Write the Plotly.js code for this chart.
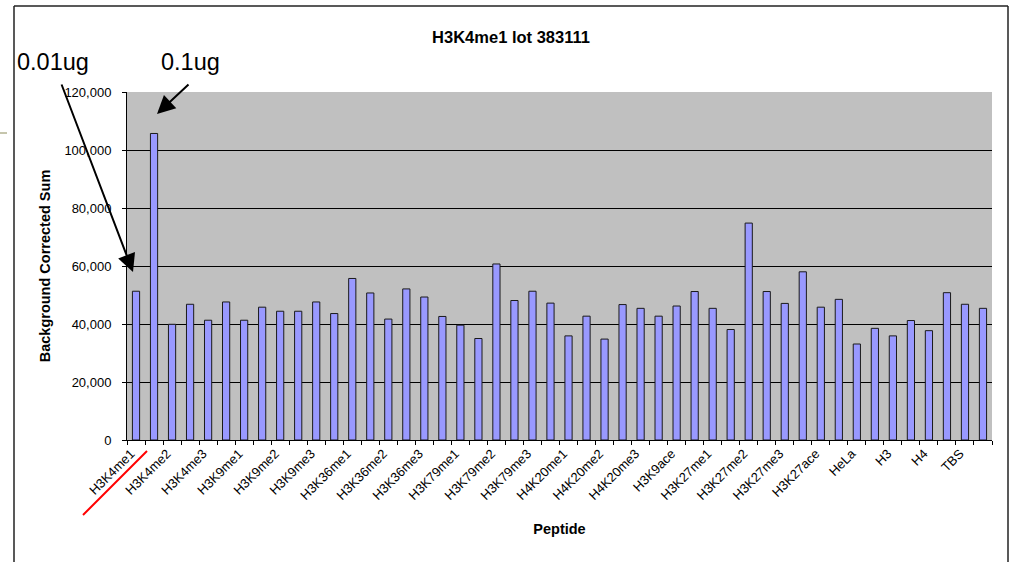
<!DOCTYPE html>
<html>
<head>
<meta charset="utf-8">
<script src="https://cdn.plot.ly/plotly-3.0.1.min.js"></script>
<style>html,body{margin:0;padding:0;background:#fff;}#chart{width:1015px;height:562px;}</style>
</head>
<body>
<div id="chart"></div>
<script>
// Peptides (each tested at two amounts: 0.01ug then 0.1ug)
var peptides = ["H3K4me1","H3K4me2","H3K4me3","H3K9me1","H3K9me2","H3K9me3","H3K36me1","H3K36me2","H3K36me3","H3K79me1","H3K79me2","H3K79me3","H4K20me1","H4K20me2","H4K20me3","H3K9ace","H3K27me1","H3K27me2","H3K27me3","H3K27ace","HeLa","H3","H4","TBS"];
var doses = ["0.01ug", "0.1ug"];
var sum001 = [51300,39900,41300,41300,44400,47600,55700,41700,49300,39600,60700,51300,35900,34800,45400,46200,45400,74800,47100,45800,33100,35900,37700,46800];
var sum01  = [105700,46800,47600,45800,44400,43600,50700,52100,42600,35000,48100,47200,42700,46700,42700,51200,38100,51200,58000,48500,38500,41200,50800,45400];
var yTicks = [0,20000,40000,60000,80000,100000,120000];

var cats = [], vals = [], tickText = [];
for (var i = 0; i < peptides.length; i++) {
  cats.push(peptides[i] + " " + doses[0]); vals.push(sum001[i]); tickText.push(peptides[i]);
  cats.push(peptides[i] + " " + doses[1]); vals.push(sum01[i]);  tickText.push("");
}

var FONT = "Liberation Sans, Arial, sans-serif";
var L = 127, R = 23, T = 92, B = 122, W = 1015, H = 562;
var pw = W - L - R, ph = H - T - B;
function px(x){ return (x - L) / pw; }
function py(y){ return (H - B - y) / ph; }

var trace = {
  type: "bar", x: cats, y: vals,
  marker: {color: "#9999ff", line: {color: "#1a1a1a", width: 1}},
  hoverinfo: "x+y"
};

var layout = {
  width: W, height: H,
  margin: {l: L, r: R, t: T, b: B, pad: 0},
  paper_bgcolor: "#ffffff",
  plot_bgcolor: "#c0c0c0",
  bargap: 0.6,
  showlegend: false,
  font: {family: FONT, color: "#000"},
  title: {text: "H3K4me1 lot 383111", x: 511 / W, xref: "container", xanchor: "center",
          y: 1 - 37 / H, yref: "container", yanchor: "middle",
          font: {family: FONT, size: 16.5, weight: 700, color: "#000"}},
  xaxis: {
    type: "category", categoryorder: "array", categoryarray: cats,
    tickvals: cats, ticktext: tickText, tickangle: -45, ticklabelshift: -5,
    tickson: "boundaries", ticks: "outside", ticklen: 4, tickcolor: "#000", tickwidth: 1,
    showgrid: false, showline: true, linecolor: "#000", linewidth: 1,
    tickfont: {family: FONT, size: 13, color: "#000"},
    title: {text: "Peptide", font: {family: FONT, size: 14.5, weight: 700, color: "#000"}, standoff: 22},
    automargin: false
  },
  yaxis: {
    range: [0, 120000], tickvals: yTicks, tickformat: ",",
    ticks: "outside", ticklen: 4, tickcolor: "#000", ticklabelstandoff: 8,
    showgrid: true, gridcolor: "#000", gridwidth: 1, zeroline: false,
    showline: true, linecolor: "#000", linewidth: 1,
    tickfont: {family: FONT, size: 13, color: "#000"},
    title: {text: "Background Corrected Sum", font: {family: FONT, size: 14.5, weight: 700, color: "#000"}, standoff: 10},
    automargin: false
  },
  annotations: [
    {xref: "paper", yref: "paper", x: px(52.7), y: py(62), text: "0.01ug", showarrow: false,
     font: {family: FONT, size: 23.5, color: "#000"}, xanchor: "center", yanchor: "middle"},
    {xref: "paper", yref: "paper", x: px(190), y: py(62), text: "0.1ug", showarrow: false,
     font: {family: FONT, size: 23.5, color: "#000"}, xanchor: "center", yanchor: "middle"},
    {xref: "paper", yref: "paper", x: px(133), y: py(272), text: "", showarrow: true,
     ax: 61 - 133, ay: 83 - 272, arrowhead: 2, arrowsize: 1.8, arrowwidth: 2, arrowcolor: "#000"},
    {xref: "paper", yref: "paper", x: px(157), y: py(114), text: "", showarrow: true,
     ax: 190 - 157, ay: 83 - 114, arrowhead: 2, arrowsize: 1.8, arrowwidth: 2, arrowcolor: "#000"}
  ],
  shapes: [
    {type: "line", xref: "paper", yref: "paper", x0: px(83), y0: py(515), x1: px(147), y1: py(451),
     line: {color: "#ff0000", width: 2}},
    {type: "line", xref: "paper", yref: "paper", x0: px(14), y0: py(6), x1: px(14), y1: py(600),
     line: {color: "#222", width: 1.5}},
    {type: "line", xref: "paper", yref: "paper", x0: px(14), y0: py(6), x1: px(1008), y1: py(6),
     line: {color: "#222", width: 1.5}},
    {type: "line", xref: "paper", yref: "paper", x0: px(1008), y0: py(6), x1: px(1008), y1: py(600),
     line: {color: "#222", width: 1.5}},
    {type: "line", xref: "paper", yref: "paper", x0: px(0), y0: py(133), x1: px(7), y1: py(133),
     line: {color: "#8c8c5a", width: 1}}
  ]
};

Plotly.newPlot("chart", [trace], layout, {displayModeBar: false, staticPlot: true});
</script>
</body>
</html>
